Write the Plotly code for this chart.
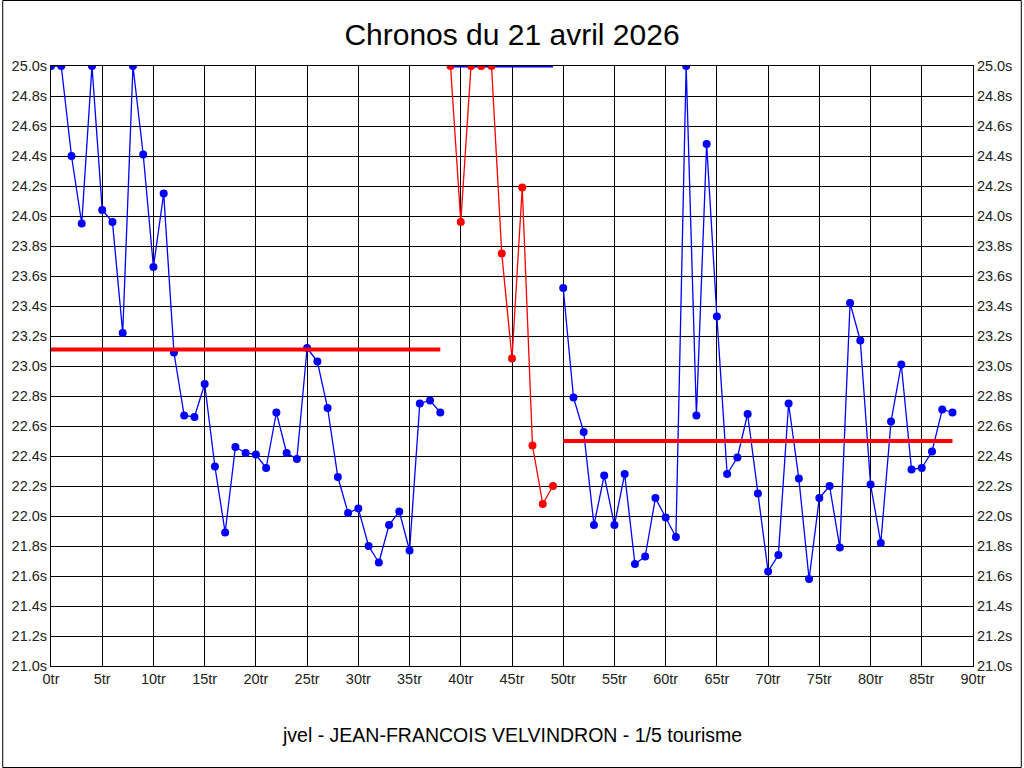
import plotly.graph_objects as go

# ---- data ----
title_text = "Chronos du 21 avril 2026"
footer_text = "jvel - JEAN-FRANCOIS VELVINDRON - 1/5 tourisme"

laps_1 = list(range(0, 39))
times_1 = [25.0, 25.0, 24.40, 23.95, 25.0, 24.04, 23.96, 23.22, 25.0, 24.41,
           23.66, 24.15, 23.09, 22.67, 22.66, 22.88, 22.33, 21.89, 22.46, 22.42,
           22.41, 22.32, 22.69, 22.42, 22.38, 23.12, 23.03, 22.72, 22.26, 22.02,
           22.05, 21.80, 21.69, 21.94, 22.03, 21.77, 22.75, 22.77, 22.69]

laps_red = list(range(39, 50))
times_red = [25.0, 23.96, 25.0, 25.0, 25.0, 23.75, 23.05, 24.19, 22.47, 22.08, 22.20]

laps_2 = list(range(50, 89))
times_2 = [23.52, 22.79, 22.56, 21.94, 22.27, 21.94, 22.28, 21.68, 21.73, 22.12,
           21.99, 21.86, 25.0, 22.67, 24.48, 23.33, 22.28, 22.39, 22.68, 22.15,
           21.63, 21.74, 22.75, 22.25, 21.58, 22.12, 22.20, 21.79, 23.42, 23.17,
           22.21, 21.82, 22.63, 23.01, 22.31, 22.32, 22.43, 22.71, 22.69]

top_line_laps = [39, 49]
top_line_value = 25.0

avg_laps = [[0, 38], [50, 88]]
avg_values = [23.11, 22.50]

y_ticks = [21.0 + 0.2 * k for k in range(21)]
x_ticks = list(range(0, 91, 5))

BLUE = "#0000FF"
RED = "#FF0000"
FONT = "Liberation Sans, Arial, sans-serif"

fig = go.Figure()

# blue series 1
fig.add_trace(go.Scatter(x=laps_1, y=times_1, mode="lines+markers",
                         line=dict(color=BLUE, width=1.3),
                         marker=dict(color=BLUE, size=8), hoverinfo="skip"))
# red series (line)
fig.add_trace(go.Scatter(x=laps_red, y=times_red, mode="lines",
                         line=dict(color=RED, width=1.3), hoverinfo="skip"))
# blue top line
fig.add_trace(go.Scatter(x=top_line_laps, y=[top_line_value] * len(top_line_laps),
                         mode="lines", line=dict(color=BLUE, width=3), hoverinfo="skip"))
# red markers
fig.add_trace(go.Scatter(x=laps_red, y=times_red, mode="markers",
                         marker=dict(color=RED, size=8), hoverinfo="skip"))
# blue series 2
fig.add_trace(go.Scatter(x=laps_2, y=times_2, mode="lines+markers",
                         line=dict(color=BLUE, width=1.3),
                         marker=dict(color=BLUE, size=8), hoverinfo="skip"))
# average lines
for rng, val in zip(avg_laps, avg_values):
    fig.add_trace(go.Scatter(x=rng, y=[val, val], mode="lines",
                             line=dict(color=RED, width=4), hoverinfo="skip"))

# invisible trace for right axis
fig.add_trace(go.Scatter(x=[0], y=[21.0], yaxis="y2", mode="markers",
                         marker=dict(opacity=0), hoverinfo="skip"))

axis_common = dict(showgrid=True, gridcolor="black", gridwidth=1,
                   zeroline=False, showline=True, linecolor="black", linewidth=1,
                   tickfont=dict(family=FONT, size=14.5, color="#222222"),
                   ticks="", fixedrange=True)

fig.update_layout(
    width=1024, height=768,
    margin=dict(l=49, r=49, t=66, b=102),
    paper_bgcolor="white", plot_bgcolor="white",
    showlegend=False,
    title=dict(text=title_text, x=0.5, xanchor="center", y=1 - 34 / 768,
               yanchor="middle", font=dict(family=FONT, size=30, color="black")),
    xaxis=dict(range=[0, 90], tickvals=x_ticks, ticktext=[f"{t}tr" for t in x_ticks],
               mirror=True, **axis_common),
    yaxis=dict(range=[21.0, 25.0], tickvals=y_ticks,
               ticktext=[f"{t:.1f}s" for t in y_ticks], **axis_common),
    yaxis2=dict(range=[21.0, 25.0], tickvals=y_ticks,
                ticktext=[f"{t:.1f}s" for t in y_ticks], overlaying="y", side="right",
                **axis_common),
    annotations=[dict(text=footer_text, x=0.5, y=-(735 - 666) / 600, xref="paper",
                      yref="paper", showarrow=False, xanchor="center", yanchor="middle",
                      font=dict(family=FONT, size=19.5, color="black"))],
    shapes=[dict(type="rect", xref="paper", yref="paper",
                 x0=-49 / 926 + 0.5 / 926, x1=1 + 48.5 / 926,
                 y0=-101.5 / 600, y1=1 + 65.5 / 600,
                 line=dict(color="black", width=1), fillcolor="rgba(0,0,0,0)")],
)

fig.write_html("out.html", config={"displayModeBar": False},
               post_script="document.body.style.margin='0';document.body.style.padding='0';")
